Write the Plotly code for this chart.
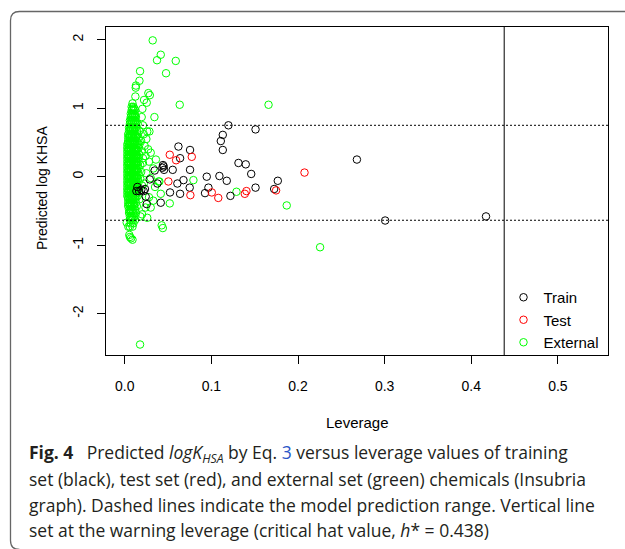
import plotly.graph_objects as go

# ---------------- data ----------------
train_lev = [0.062, 0.0754, 0.0639, 0.0442, 0.045, 0.0435, 0.0454, 0.0346, 0.0554, 0.0754,
             0.0289, 0.0678, 0.0608, 0.075, 0.0146, 0.0166, 0.0192, 0.0219, 0.0135, 0.0234,
             0.0523, 0.0639, 0.0242, 0.0254, 0.0416, 0.0377, 0.1197, 0.151, 0.1132, 0.1109,
             0.1132, 0.1313, 0.1397, 0.146, 0.0947, 0.1093, 0.1178, 0.1767, 0.0966, 0.151,
             0.1725, 0.0927, 0.122, 0.268, 0.3006, 0.417]
train_pred = [0.44, 0.39, 0.27, 0.17, 0.15, 0.13, 0.10, 0.09, 0.10, 0.10,
              -0.04, -0.05, -0.10, -0.16, -0.15, -0.21, -0.19, -0.21, -0.21, -0.18,
              -0.23, -0.25, -0.29, -0.40, -0.38, -0.10, 0.75, 0.69, 0.61, 0.52,
              0.39, 0.20, 0.18, 0.04, 0.00, 0.01, -0.06, -0.06, -0.16, -0.16,
              -0.18, -0.24, -0.28, 0.25, -0.64, -0.58]

test_lev = [0.052, 0.0774, 0.0593, 0.0504, 0.0758, 0.2075, 0.1005, 0.108, 0.1386, 0.1405, 0.1747]
test_pred = [0.32, 0.29, 0.24, -0.07, -0.27, 0.06, -0.23, -0.31, -0.25, -0.21, -0.20]

# external set: scattered points
ext_lev = [
    0.0323, 0.0416, 0.0373, 0.0589, 0.0177, 0.0477, 0.0170, 0.0127, 0.0130, 0.0290,
    0.0273, 0.0123, 0.0635, 0.0223, 0.0254, 0.0204, 0.0343, 0.0196, 0.0285, 0.166,
    0.0427, 0.0440, 0.0177, 0.187, 0.129, 0.0793, 0.2255, 0.052, 0.0416, 0.039,
    0.030, 0.018, 0.0053, 0.0073, 0.0060, 0.0023, 0.0042, 0.0090,
    0.022, 0.025, 0.023, 0.027, 0.030, 0.024, 0.021, 0.028, 0.033, 0.025,
    0.030, 0.022, 0.035, 0.028, 0.033, 0.024, 0.020, 0.026, 0.040, 0.036,
    0.021, 0.026,
    # dense cluster, row by row (top to bottom)
    0.009,
    0.008, 0.010,
    0.008, 0.010, 0.012,
    0.007, 0.009, 0.011,
    0.007, 0.009, 0.011, 0.013,
    0.006, 0.008, 0.010, 0.012,
    0.006, 0.008, 0.010, 0.012, 0.015,
    0.005, 0.007, 0.009, 0.011, 0.013,
    0.005, 0.007, 0.009, 0.011, 0.014, 0.017,
    0.004, 0.006, 0.008, 0.010, 0.012, 0.015,
    0.004, 0.006, 0.008, 0.010, 0.013, 0.016,
    0.004, 0.006, 0.008, 0.010, 0.012, 0.014, 0.019,
    0.003, 0.005, 0.007, 0.009, 0.011, 0.014, 0.017,
    0.003, 0.005, 0.007, 0.009, 0.011, 0.013, 0.016,
    0.003, 0.005, 0.007, 0.009, 0.011, 0.013, 0.015, 0.020,
    0.003, 0.005, 0.007, 0.009, 0.011, 0.013, 0.017,
    0.003, 0.005, 0.007, 0.009, 0.011, 0.013, 0.015, 0.021,
    0.003, 0.005, 0.007, 0.009, 0.011, 0.013, 0.016,
    0.003, 0.005, 0.007, 0.009, 0.011, 0.013, 0.015, 0.018,
    0.003, 0.005, 0.007, 0.009, 0.011, 0.013, 0.016,
    0.003, 0.005, 0.007, 0.009, 0.011, 0.013, 0.015, 0.019,
    0.003, 0.005, 0.007, 0.009, 0.011, 0.013, 0.016,
    0.003, 0.005, 0.007, 0.009, 0.011, 0.013, 0.015, 0.018,
    0.003, 0.005, 0.007, 0.009, 0.011, 0.013, 0.016,
    0.003, 0.005, 0.007, 0.009, 0.011, 0.014, 0.020,
    0.003, 0.005, 0.007, 0.009, 0.011, 0.013, 0.016,
    0.003, 0.005, 0.007, 0.009, 0.011, 0.014,
    0.003, 0.005, 0.007, 0.009, 0.012, 0.015,
    0.004, 0.006, 0.008, 0.010, 0.012, 0.017,
    0.004, 0.006, 0.008, 0.010, 0.013,
    0.004, 0.006, 0.008, 0.011, 0.014,
    0.005, 0.007, 0.009, 0.012,
    0.005, 0.007, 0.010, 0.013,
    0.006, 0.008, 0.011,
    0.006, 0.009, 0.012,
    0.007, 0.010,
    0.006, 0.009,
]
ext_pred = [
    1.99, 1.78, 1.70, 1.69, 1.54, 1.51, 1.40, 1.30, 1.33, 1.19,
    1.22, 1.17, 1.05, 1.12, 1.08, 0.99, 0.87, 0.87, 0.66, 1.05,
    -0.71, -0.75, -2.45, -0.42, -0.22, -0.05, -1.03, -0.39, -0.25, -0.07,
    -0.45, -0.58, -0.85, -0.90, -0.88, -0.67, -0.73, -0.92,
    0.62, 0.55, 0.45, 0.40, 0.35, 0.30, 0.20, 0.22, 0.12, 0.05,
    -0.02, -0.10, -0.15, -0.30, -0.35, -0.45, -0.55, -0.60, -0.07, 0.25,
    0.75, 0.66,
    1.07,
    1.02, 1.02,
    0.97, 0.97, 0.97,
    0.92, 0.92, 0.92,
    0.87, 0.87, 0.87, 0.87,
    0.82, 0.82, 0.82, 0.82,
    0.77, 0.77, 0.77, 0.77, 0.77,
    0.72, 0.72, 0.72, 0.72, 0.72,
    0.67, 0.67, 0.67, 0.67, 0.67, 0.67,
    0.62, 0.62, 0.62, 0.62, 0.62, 0.62,
    0.57, 0.57, 0.57, 0.57, 0.57, 0.57,
    0.52, 0.52, 0.52, 0.52, 0.52, 0.52, 0.52,
    0.47, 0.47, 0.47, 0.47, 0.47, 0.47, 0.47,
    0.42, 0.42, 0.42, 0.42, 0.42, 0.42, 0.42,
    0.37, 0.37, 0.37, 0.37, 0.37, 0.37, 0.37, 0.37,
    0.32, 0.32, 0.32, 0.32, 0.32, 0.32, 0.32,
    0.27, 0.27, 0.27, 0.27, 0.27, 0.27, 0.27, 0.27,
    0.22, 0.22, 0.22, 0.22, 0.22, 0.22, 0.22,
    0.17, 0.17, 0.17, 0.17, 0.17, 0.17, 0.17, 0.17,
    0.12, 0.12, 0.12, 0.12, 0.12, 0.12, 0.12,
    0.07, 0.07, 0.07, 0.07, 0.07, 0.07, 0.07, 0.07,
    0.02, 0.02, 0.02, 0.02, 0.02, 0.02, 0.02,
    -0.03, -0.03, -0.03, -0.03, -0.03, -0.03, -0.03, -0.03,
    -0.08, -0.08, -0.08, -0.08, -0.08, -0.08, -0.08,
    -0.13, -0.13, -0.13, -0.13, -0.13, -0.13, -0.13,
    -0.18, -0.18, -0.18, -0.18, -0.18, -0.18, -0.18,
    -0.23, -0.23, -0.23, -0.23, -0.23, -0.23,
    -0.28, -0.28, -0.28, -0.28, -0.28, -0.28,
    -0.33, -0.33, -0.33, -0.33, -0.33, -0.33,
    -0.38, -0.38, -0.38, -0.38, -0.38,
    -0.43, -0.43, -0.43, -0.43, -0.43,
    -0.48, -0.48, -0.48, -0.48,
    -0.53, -0.53, -0.53, -0.53,
    -0.58, -0.58, -0.58,
    -0.63, -0.63, -0.63,
    -0.68, -0.68,
    -0.73, -0.73,
]

# external set: further points inside the dense core of the cluster
ext_core_lev = [
    0.009, 0.011,
    0.008, 0.010, 0.012,
    0.007, 0.009, 0.011, 0.013,
    0.006, 0.008, 0.010, 0.012,
    0.005, 0.007, 0.009, 0.011, 0.013,
    0.004, 0.006, 0.008, 0.010, 0.012, 0.015,
    0.004, 0.006, 0.008, 0.010, 0.012, 0.014,
    0.004, 0.006, 0.008, 0.010, 0.012, 0.014,
    0.004, 0.006, 0.008, 0.010, 0.012, 0.014,
    0.004, 0.006, 0.008, 0.010, 0.012, 0.014,
    0.004, 0.006, 0.008, 0.010, 0.012, 0.014,
    0.004, 0.006, 0.008, 0.010, 0.012, 0.014,
    0.004, 0.006, 0.008, 0.010, 0.012,
    0.004, 0.006, 0.008, 0.010, 0.013,
    0.005, 0.007, 0.009, 0.011,
    0.006, 0.008, 0.010,
    0.007, 0.009,
]
ext_core_pred = [
    0.995, 0.995,
    0.895, 0.895, 0.895,
    0.795, 0.795, 0.795, 0.795,
    0.695, 0.695, 0.695, 0.695,
    0.595, 0.595, 0.595, 0.595, 0.595,
    0.495, 0.495, 0.495, 0.495, 0.495, 0.495,
    0.395, 0.395, 0.395, 0.395, 0.395, 0.395,
    0.295, 0.295, 0.295, 0.295, 0.295, 0.295,
    0.195, 0.195, 0.195, 0.195, 0.195, 0.195,
    0.095, 0.095, 0.095, 0.095, 0.095, 0.095,
    -0.005, -0.005, -0.005, -0.005, -0.005, -0.005,
    -0.105, -0.105, -0.105, -0.105, -0.105, -0.105,
    -0.205, -0.205, -0.205, -0.205, -0.205,
    -0.305, -0.305, -0.305, -0.305, -0.305,
    -0.405, -0.405, -0.405, -0.405,
    -0.505, -0.505, -0.505,
    -0.605, -0.605,
]

pred_upper = 0.75
pred_lower = -0.636
h_star = 0.438

x_ticks = [0.0, 0.1, 0.2, 0.3, 0.4, 0.5]
x_tick_labels = ["0.0", "0.1", "0.2", "0.3", "0.4", "0.5"]
y_ticks = [-2, -1, 0, 1, 2]
y_tick_labels = ["-2", "-1", "0", "1", "2"]

caption_lines = [
    "<b>Fig. 4</b>\u2002 Predicted <i>logK</i><sub><i>HSA</i></sub> by Eq. "
    "<span style='color:#2b57c8'>3</span> versus leverage values of training",
    "set (black), test set (red), and external set (green) chemicals (Insubria",
    "graph). Dashed lines indicate the model prediction range. Vertical line",
    "set at the warning leverage (critical hat value, <i>h</i>* = 0.438)",
]

# ---------------- layout geometry ----------------
W, H = 625, 549
ML, MR, MT, MB = 106, 17, 27, 194
PW, PH = W - ML - MR, H - MT - MB


def px_x(px):
    return (px - ML) / PW


def px_y(py):
    return (H - MB - py) / PH


FONT = "Liberation Sans, Arial, sans-serif"
CAP_FONT = "Open Sans, Noto Sans, sans-serif"
marker_common = dict(symbol="circle-open", size=7.5)

fig = go.Figure()
fig.add_trace(go.Scatter(x=ext_lev + ext_core_lev, y=ext_pred + ext_core_pred, mode="markers",
                         name="External", legendrank=3,
                         marker=dict(color="#00ff00", line=dict(width=1, color="#00ff00"), **marker_common)))
fig.add_trace(go.Scatter(x=train_lev, y=train_pred, mode="markers", name="Train",
                         legendrank=1,
                         marker=dict(color="#000000", line=dict(width=1, color="#000000"), **marker_common)))
fig.add_trace(go.Scatter(x=test_lev, y=test_pred, mode="markers", name="Test",
                         legendrank=2,
                         marker=dict(color="#ff0000", line=dict(width=1, color="#ff0000"), **marker_common)))

shapes = [
    dict(type="line", xref="paper", x0=0, x1=1, yref="y", y0=pred_upper, y1=pred_upper,
         line=dict(color="black", width=1, dash="2px,2px")),
    dict(type="line", xref="paper", x0=0, x1=1, yref="y", y0=pred_lower, y1=pred_lower,
         line=dict(color="black", width=1, dash="2px,2px")),
    dict(type="line", xref="x", x0=h_star, x1=h_star, yref="paper", y0=0, y1=1,
         line=dict(color="black", width=1)),
]
# outer rounded frame of the figure panel
r = 9
path = (f"M {px_x(10.5 + r)},{px_y(549.5)} Q {px_x(10.5)},{px_y(549.5)} {px_x(10.5)},{px_y(549.5 - r)} "
        f"L {px_x(10.5)},{px_y(11.5 + r)} Q {px_x(10.5)},{px_y(11.5)} {px_x(10.5 + r)},{px_y(11.5)} "
        f"L {px_x(660)},{px_y(11.5)}")
shapes.append(dict(type="path", xref="paper", yref="paper", path=path,
                   line=dict(color="#666666", width=1.3)))

annotations = [
    dict(text="Leverage", xref="paper", yref="paper", x=px_x(357), y=px_y(422),
         showarrow=False, xanchor="center", yanchor="middle",
         font=dict(family=FONT, size=15, color="black")),
    dict(text="Predicted log KHSA", xref="paper", yref="paper", x=px_x(42), y=px_y(188),
         showarrow=False, xanchor="center", yanchor="middle", textangle=-90,
         font=dict(family=FONT, size=14, color="black")),
]
cap_y = [453, 479, 505, 530]
for txt, cy in zip(caption_lines, cap_y):
    annotations.append(dict(text=txt, xref="paper", yref="paper", x=px_x(27), y=px_y(cy),
                            showarrow=False, xanchor="left", yanchor="middle", align="left",
                            font=dict(family=CAP_FONT, size=17.5, color="#231f20")))

fig.update_layout(
    width=W, height=H,
    margin=dict(l=ML, r=MR, t=MT, b=MB, pad=0),
    paper_bgcolor="white", plot_bgcolor="white",
    font=dict(family=FONT, size=14, color="black"),
    showlegend=True,
    legend=dict(x=px_x(503.5), y=px_y(281), xanchor="left", yanchor="top",
                bgcolor="rgba(0,0,0,0)", borderwidth=0, tracegroupgap=0,
                font=dict(family=FONT, size=15, color="black")),
    shapes=shapes,
    annotations=annotations,
)
fig.update_xaxes(range=[-0.0216, 0.5578], tickmode="array", tickvals=x_ticks, ticktext=x_tick_labels,
                 ticks="outside", ticklen=8, tickwidth=1, tickcolor="black",
                 showline=True, linecolor="black", linewidth=1, mirror=True,
                 showgrid=False, zeroline=False, ticklabelstandoff=10,
                 tickfont=dict(family=FONT, size=14, color="black"))
fig.update_yaxes(range=[-2.603, 2.185], tickmode="array", tickvals=y_ticks, ticktext=y_tick_labels,
                 ticks="outside", ticklen=8, tickwidth=1, tickcolor="black",
                 showline=True, linecolor="black", linewidth=1, mirror=True,
                 showgrid=False, zeroline=False, tickangle=-90, ticklabelstandoff=8,
                 tickfont=dict(family=FONT, size=14, color="black"))

fig.write_html("out.html")
